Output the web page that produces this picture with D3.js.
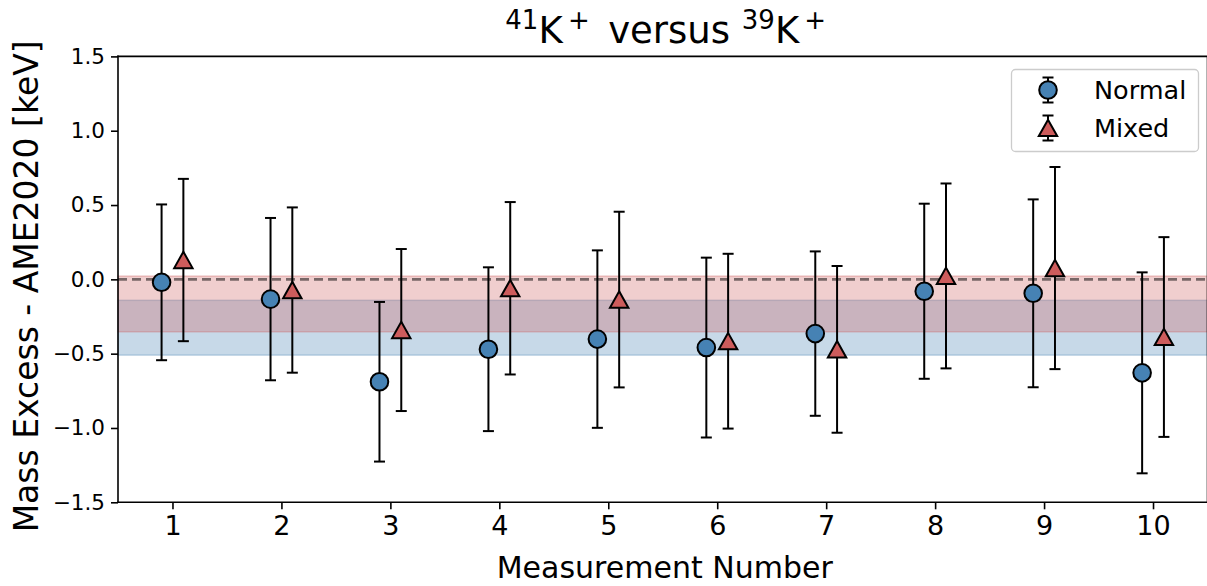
<!DOCTYPE html>
<html>
<head>
<meta charset="utf-8">
<script src="https://cdn.jsdelivr.net/npm/d3@7"></script>
<style>
  body { margin: 0; background: #fff; }
  svg { display: block; font-family: "DejaVu Sans", sans-serif; }
</style>
</head>
<body>
<svg id="chart" width="1207" height="586"></svg>
<script>
// values
const measurements = [1, 2, 3, 4, 5, 6, 7, 8, 9, 10];
const normalVals = [-0.020, -0.133, -0.689, -0.470, -0.402, -0.459, -0.365, -0.080, -0.094, -0.629];
const normalErrs = [0.524, 0.546, 0.537, 0.551, 0.597, 0.605, 0.553, 0.589, 0.632, 0.676];
const mixedVals = [0.130, -0.072, -0.341, -0.060, -0.136, -0.416, -0.471, 0.023, 0.076, -0.388];
const mixedErrs = [0.546, 0.556, 0.545, 0.580, 0.591, 0.588, 0.561, 0.622, 0.680, 0.672];
const normalBand = [-0.510, -0.141];
const mixedBand = [-0.353, 0.022];
const yTicks = [-1.5, -1.0, -0.5, 0.0, 0.5, 1.0, 1.5];
const legendLabels = ["Normal", "Mixed"];

const blue = "#4682b4";
const red = "#cd5c5c";

const svg = d3.select("#chart");
const m = {left: 118, right: 1207.5, top: 56.4, bottom: 502.3};

const x = d3.scaleLinear().domain([0.5, 10.5]).range([m.left, m.right]);
const y = d3.scaleLinear().domain([-1.5, 1.5]).range([m.bottom, m.top]);

// shaded bands (weighted means)
function band(b, col) {
    svg.append("rect")
        .attr("x", m.left)
        .attr("y", y(b[1]))
        .attr("width", m.right - m.left)
        .attr("height", y(b[0]) - y(b[1]))
        .style("fill", col)
        .style("fill-opacity", 0.3)
        .style("stroke", col)
        .style("stroke-opacity", 0.3)
        .style("stroke-width", 1.5);
}
band(normalBand, blue);
band(mixedBand, red);

svg.append("line")
    .attr("x1", m.left).attr("x2", m.right)
    .attr("y1", y(0)).attr("y2", y(0))
    .style("stroke", "#000")
    .style("stroke-opacity", 0.5)
    .style("stroke-width", 2.8)
    .style("stroke-dasharray", "9,5");

// axes
const yAxis = d3.axisLeft(y).tickValues(yTicks)
    .tickFormat(d => d3.format(".1f")(d).replace("-", "\u2212"))
    .tickSize(7).tickPadding(6);
const gy = svg.append("g").attr("transform", `translate(${m.left},0)`).call(yAxis);
gy.selectAll("text").style("font-size", "21.5px").style("font-family", "DejaVu Sans");

const xAxis = d3.axisBottom(x).tickValues(measurements).tickSize(7).tickPadding(7);
const gx = svg.append("g").attr("transform", `translate(0,${m.bottom})`).call(xAxis);
gx.selectAll("text").style("font-size", "27px").style("font-family", "DejaVu Sans");

[gx, gy].forEach(g => {
    g.select(".domain").remove();
    g.selectAll(".tick line").style("stroke-width", 1.6);
});

// spines
svg.append("line").attr("x1", m.left).attr("x2", m.left).attr("y1", m.top).attr("y2", m.bottom)
    .style("stroke", "#000").style("stroke-width", 1.6).style("stroke-linecap", "square");
svg.append("line").attr("x1", m.left).attr("x2", m.right).attr("y1", m.bottom).attr("y2", m.bottom)
    .style("stroke", "#000").style("stroke-width", 1.6).style("stroke-linecap", "square");
svg.append("line").attr("x1", m.left).attr("x2", m.right).attr("y1", m.top).attr("y2", m.top)
    .style("stroke", "#000").style("stroke-width", 1.6).style("stroke-linecap", "square");
svg.append("line").attr("x1", m.right).attr("x2", m.right).attr("y1", m.top).attr("y2", m.bottom)
    .style("stroke", "#000").style("stroke-width", 1.6);

function drawSeries(vals, errs, dx, kind, col) {
    const data = measurements.map((mm, i) => [mm + dx, vals[i], errs[i]]);
    const g = svg.append("g");
    const eb = g.selectAll(".eb").data(data).enter().append("g");
    eb.append("line")
        .attr("x1", d => x(d[0])).attr("x2", d => x(d[0]))
        .attr("y1", d => y(d[1] + d[2])).attr("y2", d => y(d[1] - d[2]))
        .style("stroke", "#000").style("stroke-width", 2);
    [1, -1].forEach(s => {
        eb.append("line")
            .attr("x1", d => x(d[0]) - 5.5).attr("x2", d => x(d[0]) + 5.5)
            .attr("y1", d => y(d[1] + s * d[2])).attr("y2", d => y(d[1] + s * d[2]))
            .style("stroke", "#000").style("stroke-width", 2);
    });
    if (kind === "circle") {
        g.selectAll(".pt").data(data).enter().append("circle")
            .attr("cx", d => x(d[0])).attr("cy", d => y(d[1]))
            .attr("r", 8.8)
            .style("fill", col).style("stroke", "#000").style("stroke-width", 2);
    } else {
        g.selectAll(".pt").data(data).enter().append("path")
            .attr("d", "M0,-8.3L9.2,8.1L-9.2,8.1Z")
            .attr("transform", d => "translate(" + x(d[0]) + "," + y(d[1]) + ")")
            .style("fill", col).style("stroke", "#000").style("stroke-width", 2)
            .style("stroke-linejoin", "miter");
    }
}
drawSeries(normalVals, normalErrs, -0.1, "circle", blue);
drawSeries(mixedVals, mixedErrs, 0.1, "triangle", red);

// legend
const lg = svg.append("g");
lg.append("rect")
    .attr("x", 1011.5).attr("y", 69.5).attr("width", 187).attr("height", 82)
    .attr("rx", 4)
    .style("fill", "#fff").style("fill-opacity", 0.8)
    .style("stroke", "#cccccc").style("stroke-width", 1.3);
legendLabels.forEach((lab, i) => {
    const cy = 90 + i * 38;
    const cx = 1048;
    lg.append("line").attr("x1", cx).attr("x2", cx).attr("y1", cy - 12.5).attr("y2", cy + 12.5)
        .style("stroke", "#000").style("stroke-width", 2);
    [-12.5, 12.5].forEach(o => {
        lg.append("line").attr("x1", cx - 5.5).attr("x2", cx + 5.5).attr("y1", cy + o).attr("y2", cy + o)
            .style("stroke", "#000").style("stroke-width", 2);
    });
    if (i === 0) {
        lg.append("circle").attr("cx", cx).attr("cy", cy).attr("r", 8.8)
            .style("fill", blue).style("stroke", "#000").style("stroke-width", 2);
    } else {
        lg.append("path").attr("d", "M0,-8.3L9.2,8.1L-9.2,8.1Z")
            .attr("transform", `translate(${cx},${cy})`)
            .style("fill", red).style("stroke", "#000").style("stroke-width", 2);
    }
    lg.append("text").attr("x", 1094).attr("y", cy + 9)
        .style("font-size", "25.5px").text(lab);
});

// labels
svg.append("text")
    .attr("x", (m.left + m.right) / 2 + 2).attr("y", 578)
    .attr("text-anchor", "middle")
    .style("font-size", "30px")
    .text("Measurement Number");

svg.append("text")
    .attr("transform", `translate(38,${(m.top + m.bottom) / 2 + 7}) rotate(-90)`)
    .attr("text-anchor", "middle")
    .style("font-size", "33px")
    .text("Mass Excess - AME2020 [keV]");

const title = svg.append("text")
    .attr("x", (m.left + m.right) / 2 + 3).attr("y", 43)
    .attr("text-anchor", "middle")
    .style("font-size", "37px");
title.append("tspan").attr("dy", -14).style("font-size", "26px").text("41");
title.append("tspan").attr("dy", 14).text("K");
title.append("tspan").attr("dy", -14).style("font-size", "26px").text("\u2009+");
title.append("tspan").attr("dy", 14).text("\u2002versus ");
title.append("tspan").attr("dy", -14).style("font-size", "26px").text("39");
title.append("tspan").attr("dy", 14).text("K");
title.append("tspan").attr("dy", -14).style("font-size", "26px").text("\u2009+");
</script>
</body>
</html>
